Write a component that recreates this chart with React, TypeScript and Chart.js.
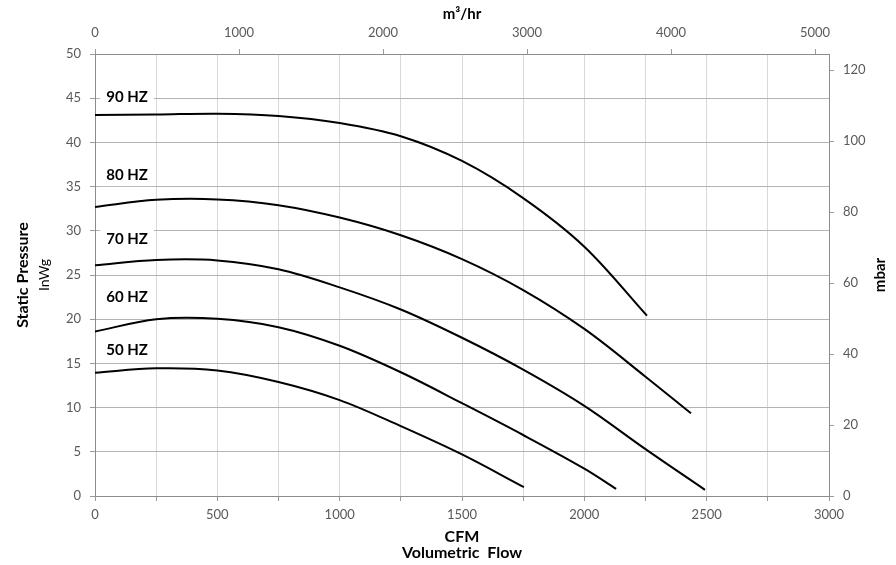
import { useEffect, useRef } from 'react';
import { Chart, registerables } from 'chart.js';

Chart.register(...registerables);

// Fan curves: flow (CFM) vs static pressure (inWg)
const cfm90 = [0, 250, 500, 750, 1000, 1250, 1500, 1750, 2000, 2256];
const p90 = [43.1, 43.15, 43.25, 43.0, 42.2, 40.7, 37.9, 33.7, 28.2, 20.4];
const cfm80 = [0, 250, 500, 750, 1000, 1250, 1500, 1750, 2000, 2250, 2436];
const p80 = [32.7, 33.5, 33.55, 32.9, 31.5, 29.5, 26.8, 23.3, 18.9, 13.5, 9.35];
const cfm70 = [0, 250, 500, 750, 1000, 1250, 1500, 1750, 2000, 2250, 2493];
const p70 = [26.1, 26.7, 26.65, 25.65, 23.6, 21.1, 17.9, 14.3, 10.2, 5.3, 0.7];
const cfm60 = [0, 250, 500, 750, 1000, 1250, 1500, 1750, 2000, 2130];
const p60 = [18.6, 20.0, 20.05, 19.1, 17.0, 14.0, 10.5, 6.9, 3.1, 0.8];
const cfm50 = [0, 250, 500, 750, 1000, 1250, 1500, 1753];
const p50 = [13.95, 14.45, 14.2, 12.9, 10.85, 7.9, 4.7, 1.0];

const curveNames = ['90 HZ', '80 HZ', '70 HZ', '60 HZ', '50 HZ'];
const labelCfm = [131, 131, 131, 131, 131];
const labelP = [45.1, 36.3, 29.0, 22.5, 16.5];

// Tick labels
const m3hTicks = [0, 1000, 2000, 3000, 4000, 5000];
const mbarTicks = [0, 20, 40, 60, 80, 100, 120];

const CFM_MAX = 3000;
const INWG_MAX = 50;
const M3H_PER_CFM = 1.699;
const MBAR_PER_INWG = 2.4909;

const FONT = 'Lato, "Open Sans", "DejaVu Sans", sans-serif';
const TICK_COLOR = '#595959';

const series = [
  [cfm90, p90],
  [cfm80, p80],
  [cfm70, p70],
  [cfm60, p60],
  [cfm50, p50],
];

const extras = {
  id: 'extras',
  beforeDatasetsDraw(chart: any) {
    const ctx = chart.ctx;
    const xs = chart.scales.x;
    const ys = chart.scales.y;
    ctx.save();
    ctx.font = `bold 15px ${FONT}`;
    ctx.textAlign = 'center';
    ctx.textBaseline = 'middle';
    curveNames.forEach((name, i) => {
      const px = xs.getPixelForValue(labelCfm[i]);
      const py = ys.getPixelForValue(labelP[i]);
      const w = ctx.measureText(name).width + 12;
      ctx.fillStyle = '#ffffff';
      ctx.fillRect(px - w / 2, py - 11, w, 22);
      ctx.fillStyle = '#000000';
      ctx.fillText(name, px, py);
    });
    ctx.restore();
  },
  afterDraw(chart: any) {
    const ctx = chart.ctx;
    const a = chart.chartArea;
    const cx = (a.left + a.right) / 2;
    const cy = (a.top + a.bottom) / 2;
    ctx.save();
    ctx.fillStyle = '#000000';
    ctx.textAlign = 'center';
    ctx.textBaseline = 'middle';
    ctx.font = `bold 15px ${FONT}`;
    ctx.fillText('m³/hr', cx, 14);
    ctx.font = `bold 16px ${FONT}`;
    ctx.fillText('CFM', cx, 537);
    ctx.fillText('Volumetric  Flow', cx, 553);
    // left title
    ctx.save();
    ctx.translate(23, cy);
    ctx.rotate(-Math.PI / 2);
    ctx.font = `bold 16px ${FONT}`;
    ctx.fillText('Static Pressure', 0, 0);
    ctx.font = `14px ${FONT}`;
    ctx.fillText('InWg', 0, 21);
    ctx.restore();
    // right title
    ctx.save();
    ctx.translate(880, cy);
    ctx.rotate(-Math.PI / 2);
    ctx.font = `bold 15px ${FONT}`;
    ctx.fillText('mbar', 0, 0);
    ctx.restore();
    ctx.restore();
  },
};

export default function App() {
  const ref = useRef<HTMLCanvasElement>(null);
  useEffect(() => {
    if (!ref.current) return;
    const tickFont = { family: FONT, size: 13 };
    const chart = new Chart(ref.current, {
      type: 'line',
      data: {
        datasets: series.map(([xs, ys], i) => ({
          label: curveNames[i],
          data: xs.map((x, j) => ({ x, y: ys[j] })),
          borderColor: '#000000',
          borderWidth: 2,
          pointRadius: 0,
          tension: 0.35,
          fill: false,
          xAxisID: 'x',
          yAxisID: 'y',
        })),
      },
      options: {
        animation: false,
        responsive: false,
        layout: { padding: 0 },
        plugins: { legend: { display: false }, tooltip: { enabled: false }, title: { display: false } },
        scales: {
          x: {
            type: 'linear',
            position: 'bottom',
            min: 0,
            max: CFM_MAX,
            ticks: {
              stepSize: 250,
              autoSkip: false,
              maxRotation: 0,
              includeBounds: false,
              color: TICK_COLOR,
              font: tickFont,
              padding: 6,
              callback: (v: any) => (Number(v) % 500 === 0 ? String(v) : ''),
            },
            grid: { color: '#d9d9d9', tickColor: '#9a9a9a', tickLength: 5, lineWidth: 1 },
            border: { color: '#8c8c8c' },
            afterFit: (s: any) => { s.height = 69; },
          },
          x2: {
            type: 'linear',
            position: 'top',
            min: 0,
            max: CFM_MAX * M3H_PER_CFM,
            ticks: {
              autoSkip: false,
              maxRotation: 0,
              color: TICK_COLOR,
              font: tickFont,
              padding: 8,
              callback: (v: any) => String(v),
            },
            afterBuildTicks: (s: any) => { s.ticks = m3hTicks.map((v) => ({ value: v })); },
            grid: { drawOnChartArea: false, tickColor: '#9a9a9a', tickLength: 5 },
            border: { color: '#8c8c8c' },
            afterFit: (s: any) => { s.height = 54; },
          },
          y: {
            type: 'linear',
            position: 'left',
            min: 0,
            max: INWG_MAX,
            ticks: {
              stepSize: 5,
              includeBounds: false,
              color: TICK_COLOR,
              font: tickFont,
              padding: 9,
            },
            grid: { color: '#b3b3b3', tickColor: '#9a9a9a', tickLength: 5 },
            border: { color: '#8c8c8c' },
            afterFit: (s: any) => { s.width = 95; },
          },
          y2: {
            type: 'linear',
            position: 'right',
            min: 0,
            max: INWG_MAX * MBAR_PER_INWG,
            ticks: {
              color: TICK_COLOR,
              font: tickFont,
              padding: 9,
              callback: (v: any) => String(v),
            },
            afterBuildTicks: (s: any) => { s.ticks = mbarTicks.map((v) => ({ value: v })); },
            grid: { drawOnChartArea: false, tickColor: '#9a9a9a', tickLength: 5 },
            border: { color: '#8c8c8c' },
            afterFit: (s: any) => { s.width = 67; },
          },
        },
      },
      plugins: [extras],
    });
    return () => chart.destroy();
  }, []);
  return (
    <div style={{ position: 'fixed', left: 0, top: 0, width: 896, height: 565, background: '#fff' }}>
      <canvas ref={ref} width={896} height={565} style={{ display: 'block' }} />
    </div>
  );
}
